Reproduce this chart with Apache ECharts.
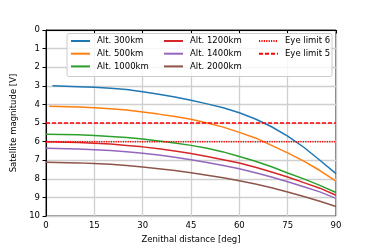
<!DOCTYPE html>
<html><head><meta charset="utf-8">
<script src="https://cdn.jsdelivr.net/npm/echarts@6/dist/echarts.min.js"></script>
<style>html,body{margin:0;padding:0;background:#fff}#c{width:374px;height:249px}</style>
</head><body><div id="c"></div>
<script>
const zenith = [0, 10, 15, 20, 25, 30, 35, 40, 45, 50, 55, 60, 65, 70, 75, 80, 85, 90];
const names = ['Alt. 300km', 'Alt. 500km', 'Alt. 1000km', 'Alt. 1200km', 'Alt. 1400km', 'Alt. 2000km'];
const startZenith = [2, 1, 0, 0, 0, 0];
const mag300  = [3.0, 3.05, 3.08, 3.13, 3.2, 3.32, 3.45, 3.6, 3.78, 3.97, 4.18, 4.45, 4.78, 5.2, 5.7, 6.3, 7.0, 7.72];
const mag500  = [4.1, 4.14, 4.18, 4.23, 4.3, 4.4, 4.52, 4.65, 4.8, 5.0, 5.22, 5.5, 5.8, 6.2, 6.6, 7.05, 7.55, 8.12];
const mag1000 = [5.6, 5.63, 5.67, 5.72, 5.78, 5.86, 5.96, 6.07, 6.2, 6.35, 6.55, 6.8, 7.05, 7.35, 7.68, 8.0, 8.35, 8.73];
const mag1200 = [6.0, 6.04, 6.08, 6.13, 6.2, 6.28, 6.38, 6.5, 6.64, 6.8, 6.97, 7.15, 7.38, 7.63, 7.9, 8.2, 8.5, 8.88];
const mag1400 = [6.35, 6.39, 6.43, 6.48, 6.54, 6.62, 6.72, 6.84, 6.97, 7.12, 7.28, 7.46, 7.67, 7.9, 8.15, 8.42, 8.7, 9.05];
const mag2000 = [7.1, 7.14, 7.18, 7.22, 7.28, 7.36, 7.45, 7.55, 7.67, 7.8, 7.94, 8.1, 8.28, 8.48, 8.7, 8.95, 9.2, 9.48];
const eyeNames = ['Eye limit 6', 'Eye limit 5'];
const eyeLimits = [6, 5];
const xTicks = [0, 15, 30, 45, 60, 75, 90];
const yTicks = [0, 1, 2, 3, 4, 5, 6, 7, 8, 9, 10];

const mags = [mag300, mag500, mag1000, mag1200, mag1400, mag2000];
const colors = ['#1f77b4', '#ff7f0e', '#2ca02c', '#d62728', '#9467bd', '#8c564b'];
const FONT = 'DejaVu Sans';
const FS = 8.5;

const series = names.map((n, i) => ({
  name: n, type: 'line', symbol: 'none', animation: false,
  lineStyle: { color: colors[i], width: 1.5 }, itemStyle: { color: colors[i], opacity: 0 },
  data: zenith.map((z, k) => [k === 0 ? startZenith[i] : z, mags[i][k]])
}));
eyeNames.forEach((n, i) => {
  series.push({
    name: n, type: 'line', symbol: 'none', animation: false,
    lineStyle: { color: '#ff0000', width: 1.5, type: i === 0 ? [1.2, 1.2] : [4, 2] },
    itemStyle: { color: '#ff0000', opacity: 0 },
    data: [[xTicks[0], eyeLimits[i]], [xTicks[xTicks.length - 1], eyeLimits[i]]]
  });
});

function leg(data, left) {
  return {
    data: data, left: left, top: 36, orient: 'vertical', padding: 0, z: 20,
    itemWidth: 19, itemHeight: 10, itemGap: 2.7,
    itemStyle: { opacity: 0 },
    textStyle: { fontFamily: FONT, fontSize: FS, color: '#000', padding: [0, 0, 0, 2], lineHeight: 10 }
  };
}

const chart = echarts.init(document.getElementById('c'), null, { renderer: 'canvas' });
chart.setOption({
  animation: false,
  backgroundColor: '#fff',
  grid: { left: 46, right: 38, top: 30, bottom: 31, show: true, borderColor: '#000', borderWidth: 1, containLabel: false },
  graphic: [{
    type: 'rect', left: 66.5, top: 33, z: 10,
    shape: { width: 265, height: 43, r: 2 },
    style: { fill: 'rgba(255,255,255,0.8)', stroke: '#cccccc', lineWidth: 1 }
  }],
  legend: [
    leg(names.slice(0, 3), 70),
    leg(names.slice(3, 6), 163),
    leg(eyeNames, 258)
  ],
  xAxis: {
    type: 'value', min: xTicks[0], max: xTicks[xTicks.length - 1], interval: 15,
    name: 'Zenithal distance [deg]', nameLocation: 'middle', nameGap: 17,
    nameTextStyle: { fontFamily: FONT, fontSize: FS, color: '#000' },
    axisLine: { show: true, lineStyle: { color: '#000', width: 1 } },
    axisTick: { show: true, length: 3.5, lineStyle: { color: '#000' } },
    axisLabel: { fontFamily: FONT, fontSize: FS, color: '#000', margin: 5 },
    splitLine: { show: true, lineStyle: { color: '#cfcfcf', width: 1.3 } }
  },
  yAxis: {
    type: 'value', inverse: true, min: yTicks[0], max: yTicks[yTicks.length - 1], interval: 1,
    name: 'Satellite magnitude [V]', nameLocation: 'middle', nameGap: 17,
    nameTextStyle: { fontFamily: FONT, fontSize: FS, color: '#000' },
    axisLine: { show: true, lineStyle: { color: '#000', width: 1 } },
    axisTick: { show: true, length: 3.5, lineStyle: { color: '#000' } },
    axisLabel: { fontFamily: FONT, fontSize: FS, color: '#000', margin: 6 },
    splitLine: { show: true, lineStyle: { color: '#cfcfcf', width: 1.3 } }
  },
  series: series
});
</script></body></html>
